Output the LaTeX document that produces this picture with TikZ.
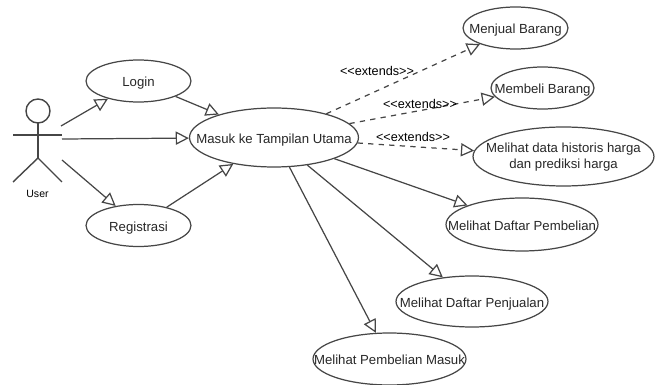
\documentclass[tikz,border=0pt]{standalone}
\usepackage{fontspec}
\setmainfont{Liberation Sans}
\usetikzlibrary{shapes.geometric,arrows.meta}
\definecolor{lineColor}{RGB}{70,70,70}
\definecolor{textColor}{RGB}{40,40,40}
\tikzset{
  usecase/.style={draw=lineColor,fill=white,ellipse,line width=0.7pt,inner xsep=-3cm,inner ysep=-1cm,align=center,text=textColor,text height=1.2ex,text depth=0pt,font=\fontsize{7.5}{9.2}\selectfont},
  actorline/.style={draw=lineColor,line width=0.8pt},
  assoc/.style={draw=lineColor,line width=0.7pt,-{Triangle[length=7.5pt,width=7.5pt,fill=white]}},
  ext/.style={assoc,dashed},
  extlabel/.style={inner sep=0pt,text=black,font=\fontsize{7.2}{8}\selectfont}
}
\begin{document}
\begin{tikzpicture}[x=0.02cm,y=-0.02cm]
\useasboundingbox (0,0) rectangle (657,385);
% actor
\draw[actorline] (38,111) circle (12);
\draw[actorline] (38,123) -- (38,158);
\draw[actorline] (13,135) -- (62,135);
\draw[actorline] (13,182) -- (38,158) -- (62,182);
\node[inner sep=0pt,font=\fontsize{6}{7}\selectfont] (user) at (37.5,193.5) {User};
\coordinate (user a) at (61,126);
\coordinate (user b) at (62,139);
\coordinate (user c) at (62,160);
% use cases
\node[usecase,minimum width=2.1cm,minimum height=0.84cm] (login) at (138.5,81) {Login};
\node[usecase,minimum width=2.1cm,minimum height=0.84cm] (registrasi) at (138.5,225.5) {Registrasi};
\node[usecase,minimum width=3.38cm,minimum height=1.18cm] (utama) at (274,137.5) {Masuk ke Tampilan Utama};
\node[usecase,minimum width=2.1cm,minimum height=0.84cm] (menjual) at (515.5,28) {Menjual Barang};
\node[usecase,minimum width=2.06cm,minimum height=0.84cm] (membeli) at (542.5,88) {Membeli Barang};
\node[usecase,minimum width=3.62cm,minimum height=1.18cm,text height=13.9pt] (historis) at (563.5,156.5) {Melihat data historis harga\\dan prediksi harga};
\node[usecase,minimum width=3.04cm,minimum height=1.06cm] (pembelian) at (522,224.5) {Melihat Daftar Pembelian};
\node[usecase,minimum width=3.04cm,minimum height=1.02cm] (penjualan) at (472,301.5) {Melihat Daftar Penjualan};
\node[usecase,minimum width=3.06cm,minimum height=1.04cm] (masuk) at (389.5,359) {Melihat Pembelian Masuk};
% connectors
\draw[assoc] (user a) -- (login);
\draw[assoc] (user b) -- (utama);
\draw[assoc] (user c) -- (registrasi);
\draw[assoc] (login) -- (utama);
\draw[assoc] (registrasi) -- (utama);
\draw[ext] (utama) -- (menjual);
\draw[ext] (utama) -- (membeli);
\draw[ext] (utama) -- (historis);
\foreach \t in {pembelian,penjualan,masuk}
  \draw[assoc] (utama) -- (\t);
\node[extlabel] (ext a) at (377,71) {<{}<extends>{}>};
\node[extlabel] (ext b) at (420,104) {<{}<extends>{}>};
\node[extlabel] (ext c) at (413,137) {<{}<extends>{}>};
\end{tikzpicture}
\end{document}
